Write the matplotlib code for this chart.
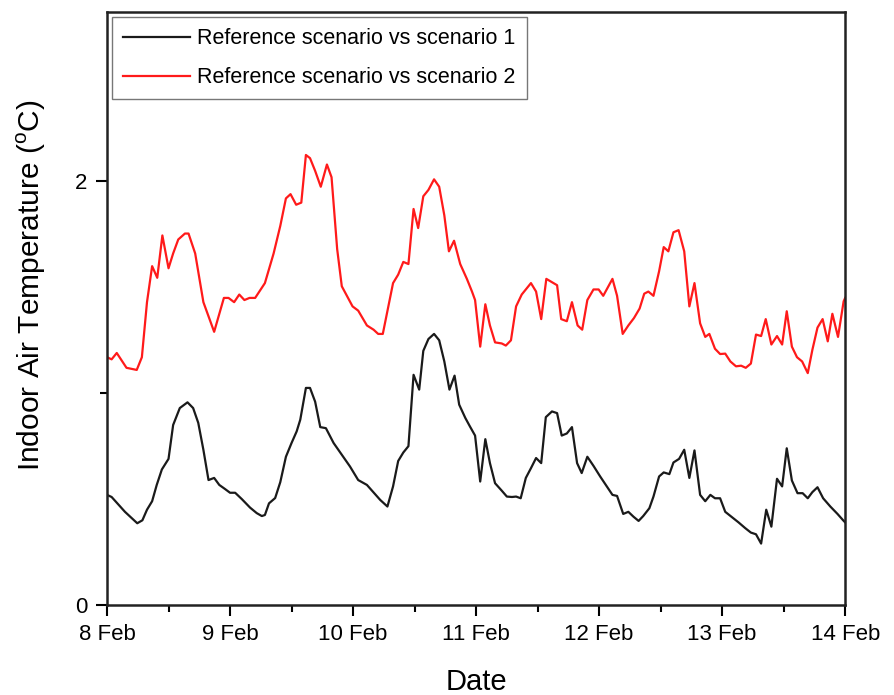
import numpy as np
import pandas as pd
import matplotlib
matplotlib.use("Agg")
import matplotlib.pyplot as plt
import matplotlib.dates as mdates
from matplotlib.ticker import FixedLocator

plt.rcParams['font.family'] = ['Liberation Sans', 'DejaVu Sans']
plt.rcParams['mathtext.fontset'] = 'custom'
plt.rcParams['mathtext.rm'] = 'Liberation Sans'

start = pd.Timestamp('2016-02-08')

# hours after 8 Feb 00:00, temperature difference (°C)
hours_1 = [0, 0.9, 3.5, 5.9, 6.9, 7.8, 8.8, 9.7, 10.7, 12.0, 12.9, 14.2, 15.7, 16.8, 17.8,
           18.8, 19.8, 20.9, 21.9, 23.0, 24.0, 25.0, 26.3, 27.9, 29.2, 30.2, 30.8, 31.6, 32.8,
           33.8, 34.9, 36.0, 37.0, 37.7, 38.8, 39.6, 40.6, 41.6, 42.7, 44.2, 45.5, 47.4, 49.0,
           50.7, 53.3, 54.7, 55.8, 56.8, 57.8, 58.8, 59.8, 60.9, 61.7, 62.7, 63.8, 64.8, 65.8,
           66.8, 67.8, 68.7, 69.9, 70.8, 71.8, 72.8, 73.8, 74.7, 75.7, 77.0, 78.0, 79.0, 79.8,
           80.7, 81.7, 82.7, 83.7, 84.7, 85.6, 86.8, 87.8, 88.7, 89.7, 90.7, 91.7, 92.6, 93.7,
           94.9, 96.2, 97.5, 98.6, 99.5, 100.7, 101.7, 102.7, 103.7, 104.6, 105.8, 106.6, 107.7,
           108.6, 109.7, 110.5, 111.6, 112.6, 113.6, 114.6, 115.7, 116.7, 117.7, 118.6, 119.6,
           120.6, 121.9, 123.2, 124.5, 125.6, 126.6, 127.6, 128.6, 129.6, 130.7, 131.7, 132.6,
           133.6, 134.7, 135.7, 136.7, 137.6, 138.6, 139.7, 141.1, 142.5, 143.6, 144.0]
scenario_1 = [0.52, 0.51, 0.44, 0.386, 0.40, 0.45, 0.49, 0.567, 0.64, 0.69, 0.85, 0.93, 0.957,
              0.93, 0.86, 0.733, 0.59, 0.60, 0.567, 0.548, 0.53, 0.53, 0.50, 0.46, 0.434, 0.42,
              0.425, 0.48, 0.505, 0.58, 0.70, 0.765, 0.82, 0.875, 1.025, 1.025, 0.96, 0.84, 0.835,
              0.765, 0.72, 0.654, 0.59, 0.567, 0.496, 0.465, 0.56, 0.68, 0.72, 0.75, 1.087, 1.017,
              1.20, 1.256, 1.28, 1.25, 1.15, 1.017, 1.083, 0.946, 0.883, 0.843, 0.80, 0.583, 0.783,
              0.67, 0.575, 0.54, 0.512, 0.51, 0.512, 0.504, 0.60, 0.646, 0.694, 0.67, 0.887, 0.914,
              0.906, 0.80, 0.81, 0.84, 0.67, 0.623, 0.70, 0.657, 0.607, 0.56, 0.52, 0.515, 0.43,
              0.44, 0.417, 0.397, 0.42, 0.457, 0.512, 0.607, 0.626, 0.618, 0.673, 0.69, 0.733,
              0.60, 0.73, 0.52, 0.49, 0.52, 0.504, 0.504, 0.44, 0.415, 0.39, 0.363, 0.342, 0.334,
              0.29, 0.45, 0.37, 0.596, 0.56, 0.74, 0.588, 0.528, 0.528, 0.504, 0.533, 0.556,
              0.504, 0.465, 0.43, 0.40, 0.39]

hours_2 = [0, 0.9, 1.9, 3.8, 5.8, 6.8, 7.8, 8.8, 9.8, 10.8, 12.0, 12.9, 13.9, 15.2, 15.9, 17.2,
           18.8, 20.9, 22.8, 23.7, 24.8, 25.8, 26.8, 27.8, 28.9, 30.8, 32.5, 33.8, 34.9, 35.8,
           36.9, 37.9, 38.8, 39.6, 40.6, 41.7, 42.9, 43.8, 44.9, 45.8, 46.8, 47.9, 49.0, 50.7,
           52.0, 52.9, 53.8, 55.8, 56.8, 57.8, 58.8, 59.8, 60.7, 61.7, 62.7, 63.8, 64.8, 65.8,
           66.7, 67.7, 68.9, 70.2, 71.2, 71.8, 72.8, 73.8, 74.7, 75.7, 77.0, 77.8, 78.8, 79.8,
           80.9, 82.7, 83.7, 84.7, 85.7, 87.8, 88.6, 89.7, 90.7, 91.8, 92.7, 93.7, 94.9, 95.9,
           96.8, 98.6, 99.5, 100.6, 101.7, 102.8, 103.9, 104.8, 105.6, 106.6, 107.7, 108.6,
           109.5, 110.5, 111.5, 112.6, 113.6, 114.6, 115.7, 116.7, 117.5, 118.6, 119.6, 120.6,
           121.6, 122.7, 123.7, 124.6, 125.6, 126.6, 127.6, 128.5, 129.6, 130.7, 131.7, 132.6,
           133.6, 134.6, 135.6, 136.7, 137.6, 138.6, 139.6, 140.6, 141.5, 142.6, 143.7, 144.0]
scenario_2 = [1.17, 1.16, 1.19, 1.12, 1.11, 1.17, 1.43, 1.60, 1.545, 1.745, 1.59, 1.66, 1.726,
              1.754, 1.754, 1.66, 1.43, 1.29, 1.45, 1.45, 1.43, 1.466, 1.44, 1.45, 1.45, 1.52,
              1.66, 1.79, 1.92, 1.94, 1.89, 1.90, 2.125, 2.11, 2.05, 1.975, 2.08, 2.02, 1.68,
              1.505, 1.46, 1.41, 1.39, 1.32, 1.30, 1.28, 1.28, 1.52, 1.56, 1.62, 1.61, 1.87, 1.78,
              1.93, 1.96, 2.01, 1.975, 1.84, 1.67, 1.72, 1.61, 1.54, 1.48, 1.44, 1.22, 1.42, 1.32,
              1.24, 1.235, 1.225, 1.25, 1.41, 1.466, 1.52, 1.48, 1.35, 1.54, 1.51, 1.35, 1.34,
              1.43, 1.32, 1.30, 1.44, 1.49, 1.49, 1.46, 1.54, 1.46, 1.28, 1.32, 1.355, 1.40, 1.47,
              1.48, 1.46, 1.576, 1.69, 1.67, 1.76, 1.77, 1.67, 1.41, 1.52, 1.33, 1.266, 1.28,
              1.21, 1.185, 1.187, 1.15, 1.127, 1.13, 1.12, 1.14, 1.277, 1.27, 1.35, 1.23, 1.27,
              1.23, 1.387, 1.22, 1.17, 1.15, 1.095, 1.205, 1.31, 1.35, 1.245, 1.375, 1.266, 1.434,
              1.45]

t1 = start + pd.to_timedelta(hours_1, unit='h')
t2 = start + pd.to_timedelta(hours_2, unit='h')

fig = plt.figure(figsize=(8.94, 6.95), dpi=100)
ax = fig.add_axes([0.1197, 0.1295, 0.8257, 0.8532])

ax.plot(t1, scenario_1, color='#1a1a1a', lw=1.6, label='Reference scenario vs scenario 1')
ax.plot(t2, scenario_2, color='#ff1a1a', lw=1.6, label='Reference scenario vs scenario 2')

ax.set_xlim(start, start + pd.Timedelta(days=6))
ax.set_ylim(0, 2.8)

ax.xaxis.set_major_locator(mdates.DayLocator())
ax.xaxis.set_minor_locator(mdates.HourLocator(byhour=[12]))
ax.xaxis.set_major_formatter(mdates.DateFormatter('%-d %b'))
ax.yaxis.set_major_locator(FixedLocator([0, 2]))
ax.yaxis.set_minor_locator(FixedLocator([1]))

ax.tick_params(which='major', direction='out', length=8, width=1.5, labelsize=16, pad=6)
ax.tick_params(which='minor', direction='out', length=5, width=1.5)
for s in ax.spines.values():
    s.set_linewidth(1.8)
    s.set_color('#222222')

ax.set_xlabel('Date', fontsize=21, labelpad=16)
ax.set_ylabel(r'Indoor Air Temperature ($^{\mathrm{o}}$C)', fontsize=21.5)
ax.yaxis.set_label_coords(-0.08, 0.54)

leg = ax.legend(loc='upper left', fontsize=15.5, handlelength=3.1, handletextpad=0.35,
                borderaxespad=0.25, borderpad=0.5, labelspacing=0.85, fancybox=False)
leg.get_frame().set_edgecolor('#555555')
leg.get_frame().set_linewidth(1.0)

fig.savefig('out.png', dpi=100)
